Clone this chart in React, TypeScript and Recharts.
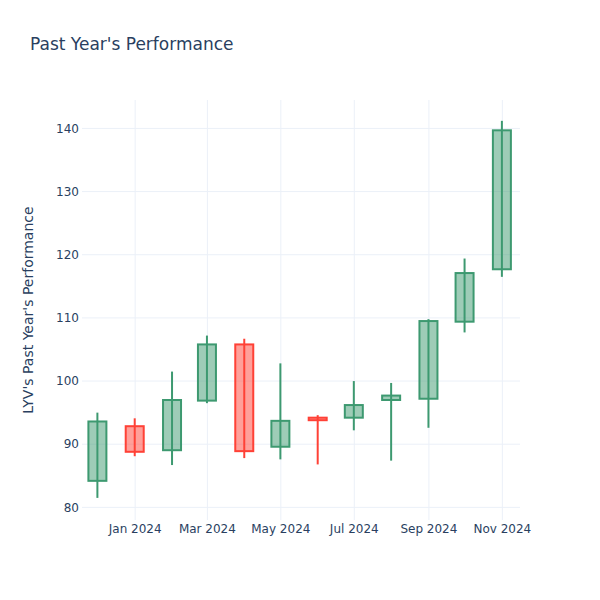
import { ComposedChart, Bar, XAxis, YAxis, CartesianGrid } from 'recharts'

const months = ['2023-12-01', '2024-01-01', '2024-02-01', '2024-03-01', '2024-04-01', '2024-05-01',
  '2024-06-01', '2024-07-01', '2024-08-01', '2024-09-01', '2024-10-01', '2024-11-01']
const opens = [84.2, 92.85, 89.05, 96.9, 105.8, 89.6, 94.2, 94.2, 97.0, 97.2, 109.4, 117.7]
const highs = [95.0, 94.1, 101.5, 107.2, 106.7, 102.8, 94.6, 100.0, 99.7, 109.8, 119.4, 141.2]
const lows = [81.5, 88.1, 86.7, 96.5, 87.8, 87.6, 86.8, 92.2, 87.4, 92.6, 107.7, 116.5]
const closes = [93.6, 88.8, 97.0, 105.8, 88.9, 93.7, 93.8, 96.2, 97.7, 109.5, 117.1, 139.7]

const xTicks = ['2024-01-01', '2024-03-01', '2024-05-01', '2024-07-01', '2024-09-01', '2024-11-01']
const monthNames = ['Jan', 'Feb', 'Mar', 'Apr', 'May', 'Jun', 'Jul', 'Aug', 'Sep', 'Oct', 'Nov', 'Dec']
const yTicks = [80, 90, 100, 110, 120, 130, 140]

const ts = (s: string) => Date.parse(s + 'T00:00:00Z')
const HOUR = 3600000

const data = months.map((m, i) => ({
  t: ts(m),
  open: opens[i],
  high: highs[i],
  low: lows[i],
  close: closes[i],
  range: [lows[i], highs[i]],
}))

const UP = '#3D9970'
const DOWN = '#FF4136'
const TEXT = '#2a3f5f'
const GRID = '#EBF0F8'

const fmtDate = (v: number) => {
  const d = new Date(v)
  return `${monthNames[d.getUTCMonth()]} ${d.getUTCFullYear()}`
}

const Candle = (props: any) => {
  const { x, y, width, height, payload } = props
  const { open, high, low, close } = payload
  const top = Math.min(y, y + height)
  const h = Math.abs(height)
  const per = h / (high - low)
  const cx = x + width / 2
  const yOpen = top + (high - open) * per
  const yClose = top + (high - close) * per
  const up = close >= open
  const col = up ? UP : DOWN
  const bTop = Math.min(yOpen, yClose)
  const bH = Math.max(Math.abs(yOpen - yClose), 0.5)
  return (
    <g>
      <line x1={cx} x2={cx} y1={top} y2={top + h} stroke={col} strokeWidth={2} />
      <rect x={x} y={bTop} width={width} height={bH}
        fill={col} fillOpacity={0.5} stroke={col} strokeWidth={2} />
    </g>
  )
}

export default function App() {
  return (
    <div style={{ position: 'absolute', left: 0, top: 0, width: 600, height: 600, background: '#fff', fontFamily: '"DejaVu Sans", sans-serif' }}>
      <ComposedChart width={600} height={600} data={data}
        margin={{ top: 100, right: 80, bottom: 0, left: 0 }}>
        <CartesianGrid stroke={GRID} strokeWidth={1}
          horizontalValues={yTicks} verticalValues={xTicks.map(ts)} />
        <XAxis dataKey="t" type="number" scale="linear"
          domain={[ts('2023-11-18') - 4 * HOUR, ts('2024-11-15') + 16 * HOUR]}
          allowDataOverflow ticks={xTicks.map(ts)} interval={0} tickFormatter={fmtDate}
          axisLine={false} tickLine={false} tickSize={0} tickMargin={4}
          tick={{ fill: TEXT, fontSize: 12 }} height={80} />
        <YAxis type="number" domain={[78, 144.5]} allowDataOverflow ticks={yTicks} interval={0}
          axisLine={false} tickLine={false} tickSize={0} tickMargin={3} width={82}
          tick={{ fill: TEXT, fontSize: 12 }} />
        <Bar dataKey="range" barSize={18} shape={Candle} isAnimationActive={false} />
      </ComposedChart>
      <svg width={600} height={600} style={{ position: 'absolute', left: 0, top: 0, pointerEvents: 'none' }}>
        <text x={30} y={50} fill={TEXT} fontSize={17}>Past Year's Performance</text>
        <text x={33} y={310} fill={TEXT} fontSize={14} textAnchor="middle"
          transform="rotate(-90 33 310)">LYV's Past Year's Performance</text>
      </svg>
    </div>
  )
}
